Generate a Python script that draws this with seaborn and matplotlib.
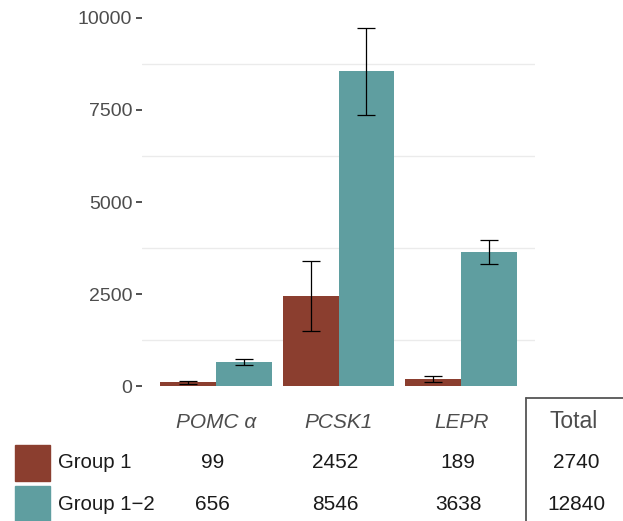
import numpy as np
import pandas as pd
import matplotlib
matplotlib.use("Agg")
import matplotlib.pyplot as plt
from matplotlib.patches import Rectangle
from matplotlib.lines import Line2D
import seaborn as sns

# ========== DATA ==========
genes = ["POMC α", "PCSK1", "LEPR"]
groups = ["Group 1", "Group 1\u22122"]
group1_mean = [99, 2452, 189]
group12_mean = [656, 8546, 3638]
group1_err = [35, 950, 85]
group12_err = [72, 1180, 335]
colors = ["#8B3E2F", "#5F9EA0"]

df = pd.DataFrame({
    "gene": genes * 2,
    "group": [groups[0]] * 3 + [groups[1]] * 3,
    "value": group1_mean + group12_mean,
    "err": group1_err + group12_err,
})

# ========== STYLE ==========
sns.set_style("white")
plt.rcParams["font.family"] = ["Liberation Sans", "DejaVu Sans"]
text_col = "#4D4D4D"

W, H = 623, 521
fig = plt.figure(figsize=(W / 100, H / 100), dpi=100)
ax = fig.add_axes([142 / W, (H - 404) / H, 393 / W, 394 / H])

sns.barplot(data=df, x="gene", y="value", hue="group", palette=colors,
            errorbar=None, width=0.91, saturation=1, gap=0, linewidth=0,
            ax=ax, legend=False)

# error bars at the bar centres
for cont, grp in zip(ax.containers, groups):
    sub = df[df["group"] == grp]
    xs = [p.get_x() + p.get_width() / 2 for p in cont.patches]
    ax.errorbar(xs, sub["value"], yerr=sub["err"], fmt="none",
                ecolor="black", elinewidth=0.9, capsize=6.8, capthick=0.9)

ax.set_xlim(-0.6, 2.6)
ax.set_ylim(-486, 10215)
ax.set_yticks([0, 2500, 5000, 7500, 10000])
ax.set_yticks([1250, 3750, 6250, 8750], minor=True)
ax.grid(which="minor", axis="y", color="#EBEBEB", linewidth=1)
ax.grid(which="major", visible=False)
ax.set_axisbelow(True)
ax.set_xticks([])
ax.set_xlabel("")
ax.set_ylabel("")
ax.tick_params(axis="y", which="major", length=4, width=1.2, color="#333333",
               labelsize=14, labelcolor=text_col, pad=3, left=True)
ax.tick_params(axis="y", which="minor", length=0)
for s in ax.spines.values():
    s.set_visible(False)

# ========== TABLE BELOW ==========
def fx(px):
    return px / W

def fy(py):
    return (H - py) / H

fig.canvas.draw()
col_x = [fig.transFigure.inverted().transform(ax.transData.transform((i, 0)))[0]
         for i in range(len(genes))]

for x, g in zip(col_x, genes):
    fig.text(x, fy(422), g, ha="center", va="center", style="italic",
             fontsize=15, color=text_col)
fig.text(fx(574), fy(422), "Total", ha="center", va="center", fontsize=16.5,
         color=text_col)

rows_y = [463, 504]
for row, (grp, vals, c) in enumerate(zip(groups, [group1_mean, group12_mean], colors)):
    y = fy(rows_y[row])
    fig.patches.append(Rectangle((fx(15), y - 18 / H), 35 / W, 36 / H,
                                 transform=fig.transFigure, color=c))
    fig.text(fx(58), y, grp, ha="left", va="center", fontsize=14.7, color="#1A1A1A")
    for x, v in zip(col_x, vals):
        fig.text(x - 0.005, y, str(v), ha="center", va="center", fontsize=15,
                 color="#1A1A1A")
    fig.text(fx(576), y, str(sum(vals)), ha="center", va="center", fontsize=15,
             color="#1A1A1A")

fig.lines.append(Line2D([fx(526), fx(526)], [fy(398), 0], transform=fig.transFigure,
                        color="#555555", linewidth=1.3))
fig.lines.append(Line2D([fx(526), 1], [fy(398), fy(398)], transform=fig.transFigure,
                        color="#555555", linewidth=1.3))

fig.savefig("out.png", dpi=100)
